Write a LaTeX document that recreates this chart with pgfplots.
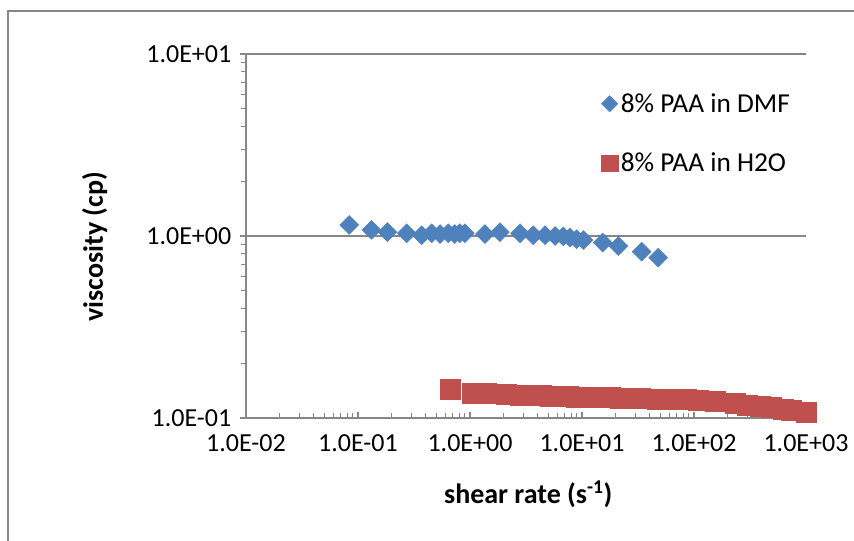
\documentclass[border=0pt]{standalone}
\usepackage{fontspec}
\setmainfont{Carlito}
\usepackage{pgfplots}
\pgfplotsset{compat=1.18}
\definecolor{dmfblue}{HTML}{4F81BD}
\definecolor{h2ored}{HTML}{C0504D}
\definecolor{axgray}{HTML}{868686}

\begin{document}
\begin{tikzpicture}
\useasboundingbox (-184.5pt,-91.5pt) rectangle (456pt,313.5pt);
\draw[axgray,line width=1pt] (-178.5pt,-120pt) |- (480pt,305.25pt);
\begin{axis}[at={(0,0)},anchor=south west,scale only axis,
  width=420pt,height=273pt,
  xmode=log,ymode=log,
  xmin=1e-2,xmax=1e3,ymin=0.1,ymax=10,
  axis x line*=bottom,axis y line*=left,
  axis line style={axgray,line width=1pt},
  xtick={1e-2,1e-1,1e0,1e1,1e2,1e3},
  xticklabels={1.0E-02,1.0E-01,1.0E+00,1.0E+01,1.0E+02,1.0E+03},
  ytick={0.1,1,10},
  yticklabels={1.0E-01,1.0E+00,1.0E+01},
  minor xtick={0.02,0.03,0.04,0.05,0.06,0.07,0.08,0.09,0.2,0.3,0.4,0.5,0.6,0.7,0.8,0.9,2,3,4,5,6,7,8,9,20,30,40,50,60,70,80,90,200,300,400,500,600,700,800,900},
  minor ytick={0.2,0.3,0.4,0.5,0.6,0.7,0.8,0.9,2,3,4,5,6,7,8,9},
  x tick style={axgray,line width=0.8pt},
  y tick style={axgray,line width=0.8pt},
  xtick align=inside,ytick align=outside,
  major tick length=4.5pt,minor tick length=4pt,
  ymajorgrids,grid style={axgray,line width=1pt},
  tick label style={font=\fontsize{19.5}{22}\selectfont,text=black},
  xticklabel style={yshift=-9pt},
  yticklabel style={xshift=-3pt},
  xlabel={\textbf{shear rate (s\textsuperscript{-1})}},
  ylabel={\textbf{viscosity (cp)}},
  label style={font=\fontsize{21}{24}\selectfont},
  xlabel style={at={(axis description cs:0.504,-0.21)},anchor=center},
  ylabel style={at={(axis description cs:-0.27,0.47)},anchor=center},
  legend style={at={(rel axis cs:0.634,0.90)},anchor=north west,draw=none,fill=none,
    font=\fontsize{20.5}{24}\selectfont,row sep=25pt,inner sep=0pt},
  legend cell align=left,
  clip=false]
\addplot[only marks,mark=square*,mark options={rotate=45,fill=dmfblue,draw=dmfblue},mark size=5pt,
  legend image code/.code={\draw[mark size=4.3pt] plot coordinates {(0.3cm,0cm)};}]
  coordinates {(0.0835,1.15)(0.132,1.08)(0.183,1.05)(0.272,1.035)(0.37,1.01)(0.455,1.035)(0.54,1.025)(0.64,1.035)(0.73,1.025)(0.81,1.035)(0.90,1.035)(1.36,1.025)(1.85,1.05)(2.8,1.035)(3.67,1.01)(4.68,1.01)(5.75,1.0)(6.8,0.995)(7.8,0.98)(8.95,0.96)(10.3,0.95)(15.3,0.92)(21.1,0.88)(34.1,0.82)(47.9,0.76)};
\addlegendentry{8\% PAA in DMF}
\addplot[only marks,mark=square*,mark options={fill=h2ored,draw=h2ored},mark size=7.5pt,
  legend image code/.code={\draw[mark size=6.3pt] plot coordinates {(0.3cm,0cm)};}]
  coordinates {(0.66,0.144)(1.04,0.137)(1.41,0.136)(2.12,0.135)(2.79,0.134)(3.43,0.133)(4.37,0.1325)(5.18,0.132)(6.15,0.1315)(7.55,0.131)(8.96,0.1305)(11.0,0.130)(14.5,0.1298)(17.8,0.1295)(21.9,0.129)(25.1,0.1285)(33.1,0.128)(46.8,0.127)(66,0.1265)(85,0.126)(110,0.1255)(155,0.124)(234,0.120)(302,0.118)(389,0.116)(494,0.114)(627,0.112)(738,0.110)(1000,0.107)};
\addlegendentry{8\% PAA in H2O}
\end{axis}
\end{tikzpicture}
\end{document}
